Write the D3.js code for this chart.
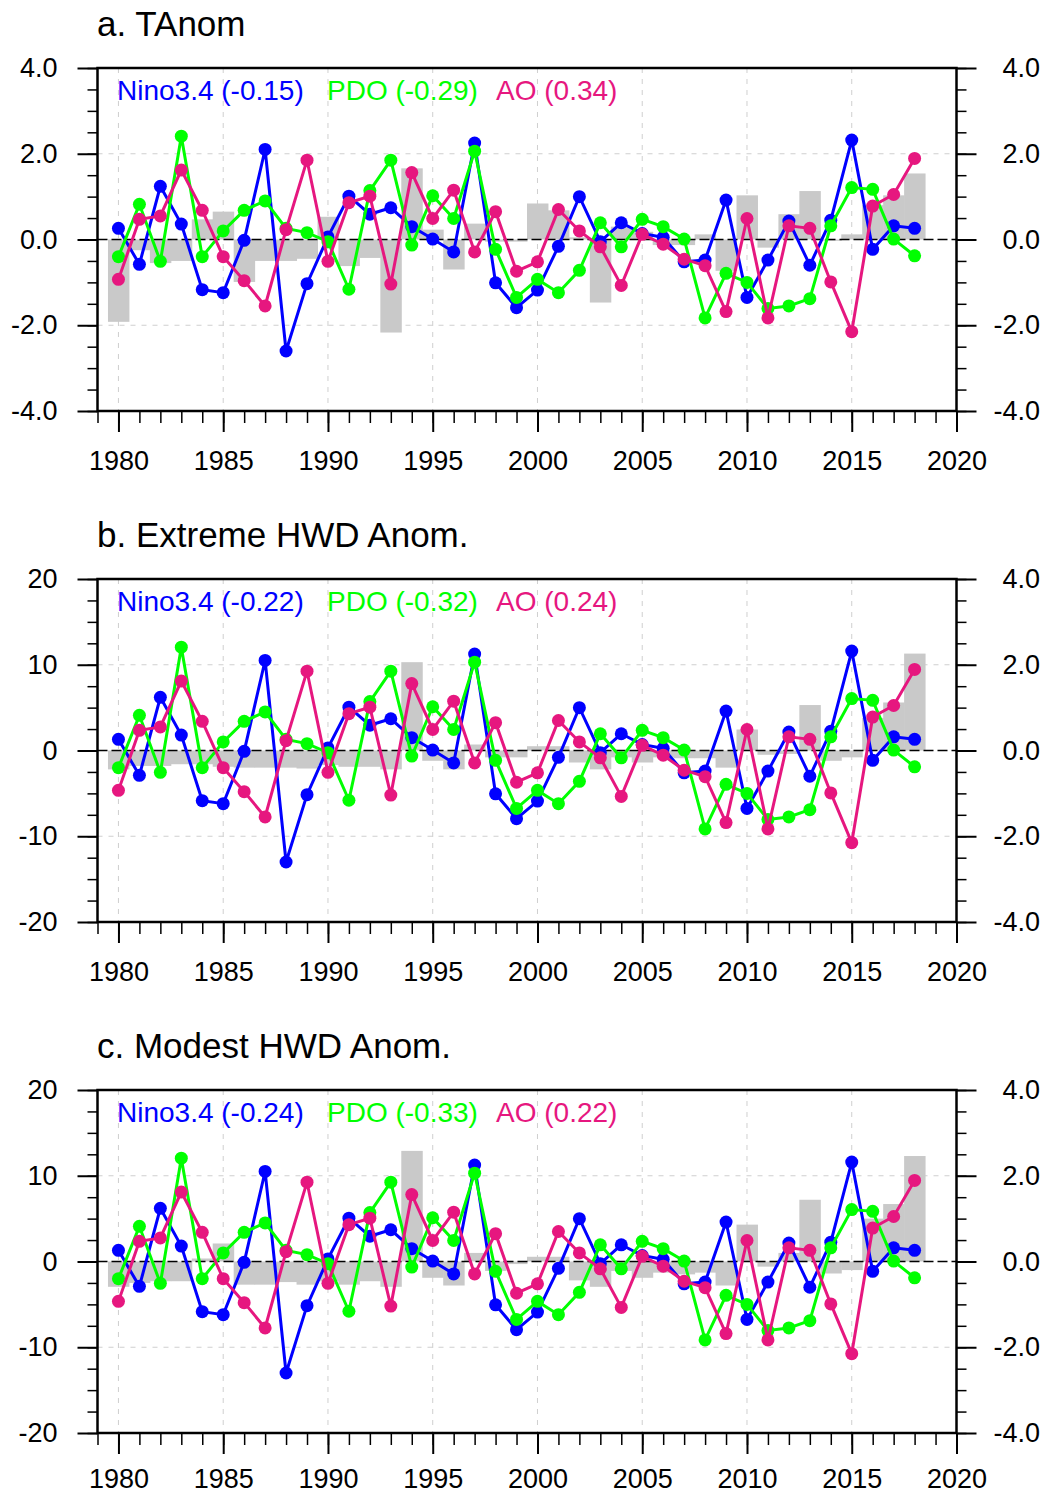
<!DOCTYPE html>
<html lang="en">
<head>
<meta charset="utf-8">
<title>TAnom and HWD anomalies with Nino3.4, PDO, AO</title>
<script src="https://d3js.org/d3.v7.min.js"></script>
<style>
body { margin: 0; background: #fff; font-family: "Liberation Sans", Arial, Helvetica, sans-serif; }
.title { font-size: 35px; fill: #000; }
.legend { font-size: 28px; }
</style>
</head>
<body>
<div id="canvas"></div>
<script>
// ---- data ----
var years = [1980, 1981, 1982, 1983, 1984, 1985, 1986, 1987, 1988, 1989,
             1990, 1991, 1992, 1993, 1994, 1995, 1996, 1997, 1998, 1999,
             2000, 2001, 2002, 2003, 2004, 2005, 2006, 2007, 2008, 2009,
             2010, 2011, 2012, 2013, 2014, 2015, 2016, 2017, 2018];

// climate indices (right axis)
var nino34 = [0.26, -0.58, 1.24, 0.36, -1.17, -1.24, -0.02, 2.10, -2.60, -1.03,
              0.06, 1.01, 0.59, 0.74, 0.30, 0.01, -0.29, 2.25, -1.01, -1.59,
              -1.18, -0.16, 1.00, -0.05, 0.39, 0.14, 0.05, -0.52, -0.48, 0.92,
              -1.35, -0.48, 0.43, -0.60, 0.45, 2.32, -0.23, 0.32, 0.26];
var pdo = [-0.40, 0.82, -0.51, 2.41, -0.40, 0.20, 0.68, 0.90, 0.26, 0.16,
           -0.05, -1.16, 1.14, 1.85, -0.13, 1.02, 0.49, 2.06, -0.23, -1.35,
           -0.93, -1.24, -0.72, 0.39, -0.17, 0.47, 0.30, 0.01, -1.83, -0.79,
           -1.00, -1.61, -1.55, -1.38, 0.32, 1.21, 1.17, 0.01, -0.38];
var ao = [-0.93, 0.47, 0.55, 1.62, 0.68, -0.40, -0.96, -1.55, 0.23, 1.85,
          -0.51, 0.86, 1.01, -1.04, 1.56, 0.49, 1.15, -0.29, 0.65, -0.74,
          -0.52, 0.70, 0.20, -0.17, -1.07, 0.12, -0.11, -0.46, -0.61, -1.68,
          0.49, -1.83, 0.32, 0.26, -0.99, -2.15, 0.78, 1.05, 1.89];

// bars (left axis)
var tAnom = [-1.92, -0.25, -0.55, -0.50, 0.47, 0.65, -0.99, -0.50, -0.50, -0.45,
             0.53, -0.62, -0.43, -2.17, 1.66, 0.23, -0.70, 0.37, -0.05, -0.05,
             0.84, 0.68, 0.05, -1.47, 0.30, 0.18, -0.13, -0.13, 0.12, -0.73,
             1.03, -0.19, 0.59, 1.13, -0.03, 0.12, 0.80, 1.03, 1.54];
var extremeHWD = [-2.2, -1.8, -1.8, -1.6, -1.6, -1.9, -2.0, -2.0, -2.0, -2.1,
                  -1.7, -1.9, -1.9, -2.2, 10.3, -1.2, -2.2, 0.7, -0.8, -0.8,
                  0.5, 0.5, -1.4, -2.2, -0.8, -1.4, -0.8, -0.9, -0.9, -2.0,
                  2.45, -0.5, -0.4, 5.3, -1.2, -0.8, 3.8, 5.6, 11.3];
var modestHWD = [-2.95, -2.5, -2.3, -2.3, 0.35, 2.1, -2.7, -2.7, -2.4, -2.7,
                 -2.3, -2.7, -2.3, -2.95, 12.9, -1.9, -2.8, 1.0, -1.1, -0.3,
                 0.55, 0.55, -2.2, -2.95, -1.1, -1.9, -1.3, -1.5, -1.3, -2.8,
                 4.3, -0.6, 1.0, 7.2, -1.4, -1.0, 5.0, 6.7, 12.3];

var titles = ["a. TAnom", "b. Extreme HWD Anom.", "c. Modest HWD Anom."];
var seriesNames = ["Nino3.4", "PDO", "AO"];
var correlations = [["-0.15", "-0.29", "0.34"],
                    ["-0.22", "-0.32", "0.24"],
                    ["-0.24", "-0.33", "0.22"]];
var xTickYears = [1980, 1985, 1990, 1995, 2000, 2005, 2010, 2015, 2020];
var leftTicksT = [-4, -2, 0, 2, 4];
var leftTicksHWD = [-20, -10, 0, 10, 20];
var rightTicks = [-4, -2, 0, 2, 4];

// ---- layout ----
var width = 1050, height = 1496;
var left = 97.5, right = 956.5, plotH = 343;
var panelTops = [68, 579, 1090];
var colors = ["#0000ff", "#00ff00", "#e6177f"];
var fontFam = '"Liberation Sans", Arial, Helvetica, sans-serif';

// plain hyphen minus like the original, not the unicode minus
var fmt1 = function(d) { return d3.format(".1f")(d).replace("\u2212", "-"); };
var fmtInt = function(d) { return d3.format("d")(d).replace("\u2212", "-"); };

var svg = d3.select("#canvas").append("svg")
    .attr("width", width)
    .attr("height", height);

var x = d3.scaleLinear().domain([1979, 2020]).range([left, right]);
var barW = x(1981) - x(1980);

var panels = [
    { title: titles[0], bars: tAnom, leftDomain: [-4, 4], leftTicks: leftTicksT, leftMinor: 0.5, leftFmt: fmt1, corr: correlations[0] },
    { title: titles[1], bars: extremeHWD, leftDomain: [-20, 20], leftTicks: leftTicksHWD, leftMinor: 2.5, leftFmt: fmtInt, corr: correlations[1] },
    { title: titles[2], bars: modestHWD, leftDomain: [-20, 20], leftTicks: leftTicksHWD, leftMinor: 2.5, leftFmt: fmtInt, corr: correlations[2] }
];
var indexSeries = [nino34, pdo, ao];

function styleAxis(g, size, width) {
    g.select(".domain").remove();
    g.selectAll(".tick line").attr("stroke", "#000").attr("stroke-width", width);
    g.selectAll(".tick text").attr("fill", "#000").attr("font-size", size).attr("font-family", fontFam);
}

panels.forEach(function(p, i) {
    var top = panelTops[i], bottom = top + plotH;
    var g = svg.append("g");

    var yL = d3.scaleLinear().domain(p.leftDomain).range([bottom, top]);
    var yR = d3.scaleLinear().domain([-4, 4]).range([bottom, top]);

    // grid
    var grid = g.append("g").attr("stroke", "#cfcfcf").attr("stroke-width", 1).attr("stroke-dasharray", "5,6");
    grid.selectAll("line.v").data(xTickYears.slice(0, -1)).enter().append("line")
        .attr("x1", d => x(d)).attr("x2", d => x(d))
        .attr("y1", top).attr("y2", bottom);
    grid.selectAll("line.h").data(rightTicks.filter(d => d !== 0 && Math.abs(d) < 4)).enter().append("line")
        .attr("x1", left).attr("x2", right)
        .attr("y1", d => yR(d)).attr("y2", d => yR(d));

    // bars
    g.append("g").selectAll("rect").data(p.bars).enter().append("rect")
        .attr("x", (d, k) => x(years[k]) - barW / 2)
        .attr("width", barW + 0.5)
        .attr("y", d => Math.min(yL(d), yL(0)))
        .attr("height", d => Math.abs(yL(d) - yL(0)))
        .attr("fill", "#c9c9c9");

    // zero line
    g.append("line")
        .attr("x1", left).attr("x2", right)
        .attr("y1", yL(0)).attr("y2", yL(0))
        .attr("stroke", "#000").attr("stroke-width", 1.5)
        .attr("stroke-dasharray", "10,4");

    // index lines
    var line = d3.line().x((d, k) => x(years[k])).y(d => yR(d));
    indexSeries.forEach(function(s, j) {
        var sg = g.append("g");
        sg.append("path").datum(s)
            .attr("d", line)
            .attr("fill", "none")
            .attr("stroke", colors[j])
            .attr("stroke-width", 3);
        sg.selectAll("circle").data(s).enter().append("circle")
            .attr("cx", (d, k) => x(years[k]))
            .attr("cy", d => yR(d))
            .attr("r", 6.5)
            .attr("fill", colors[j]);
    });

    // legend
    var legendX = [117, 327, 496];
    seriesNames.forEach(function(n, j) {
        g.append("text").attr("class", "legend")
            .attr("x", legendX[j]).attr("y", top + 32)
            .attr("fill", colors[j])
            .text(n + " (" + p.corr[j] + ")");
    });

    // title
    g.append("text").attr("class", "title")
        .attr("x", 97).attr("y", top - 32)
        .text(p.title);

    // axes
    var leftMinorVals = d3.range(p.leftDomain[0], p.leftDomain[1] + 0.001, p.leftMinor);
    g.append("g").attr("transform", "translate(" + left + ",0)")
        .call(d3.axisLeft(yL).tickValues(leftMinorVals).tickSize(10).tickFormat(""))
        .call(a => styleAxis(a, 27, 1.5));
    g.append("g").attr("transform", "translate(" + left + ",0)")
        .call(d3.axisLeft(yL).tickValues(p.leftTicks).tickSize(20).tickPadding(20).tickFormat(p.leftFmt))
        .call(a => styleAxis(a, 27, 2));

    var rightMinorVals = d3.range(-4, 4.001, 0.5);
    g.append("g").attr("transform", "translate(" + right + ",0)")
        .call(d3.axisRight(yR).tickValues(rightMinorVals).tickSize(10).tickFormat(""))
        .call(a => styleAxis(a, 27, 1.5));
    g.append("g").attr("transform", "translate(" + right + ",0)")
        .call(d3.axisRight(yR).tickValues(rightTicks).tickSize(20).tickFormat(fmt1))
        .call(a => styleAxis(a, 27, 2))
        .call(a => a.selectAll(".tick text").attr("text-anchor", "end").attr("x", 1040 - right));

    g.append("g").attr("transform", "translate(0," + bottom + ")")
        .call(d3.axisBottom(x).tickValues(d3.range(1979, 2021)).tickSize(12).tickFormat(""))
        .call(a => styleAxis(a, 27, 1.5));
    // last panel's year labels sit at the page edge: lift them a little so they stay inside
    g.append("g").attr("transform", "translate(0," + bottom + ")")
        .call(d3.axisBottom(x).tickValues(xTickYears).tickSize(21).tickPadding(i === 2 ? 15 : 19).tickFormat(d3.format("d")))
        .call(a => styleAxis(a, 27, 2));

    // frame
    g.append("rect")
        .attr("x", left).attr("y", top)
        .attr("width", right - left).attr("height", plotH)
        .attr("fill", "none").attr("stroke", "#000").attr("stroke-width", 2.5);
});
</script>
</body>
</html>
